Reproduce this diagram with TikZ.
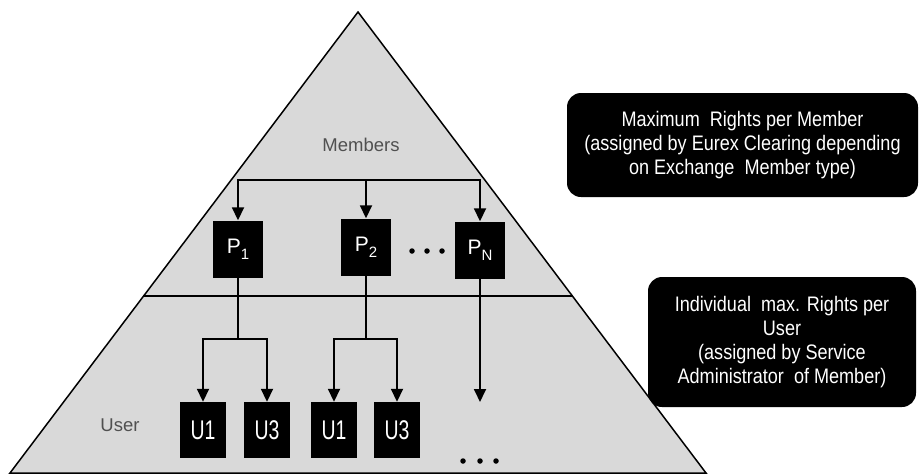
\documentclass[tikz,border=0pt]{standalone}
\usepackage{fontspec}
\setmainfont{Liberation Sans}
\newfontfamily\boxfont{Liberation Sans}[FakeStretch=0.86]
\newfontfamily\ufont{Liberation Sans}[FakeStretch=0.72]
\usetikzlibrary{arrows.meta,calc}
\definecolor{trigray}{HTML}{D9D9D9}
\definecolor{labelgray}{HTML}{505050}
\newcommand{\psub}[1]{P\raisebox{-6pt}{\fontsize{15}{15}\selectfont #1}}
\tikzset{
  pbox/.style={fill=black, minimum width=50pt, minimum height=57pt, inner sep=0pt,
    text=white, font=\fontsize{21}{21}\selectfont},
  ubox/.style={fill=black, minimum width=46pt, minimum height=56pt, inner sep=0pt,
    text=white, font=\ufont\fontsize{27}{27}\selectfont},
  infobox/.style={fill=black, rounded corners=14pt, text=white, align=center,
    inner sep=0pt, font=\boxfont\fontsize{21}{24}\selectfont},
  lvl/.style={text=labelgray, font=\fontsize{18.5}{18.5}\selectfont},
  conn/.style={line width=1.8pt, -{Triangle[length=13pt,width=12pt]}},
  wire/.style={line width=1.8pt},
  dotmark/.style={circle, fill=black, inner sep=0pt, minimum size=5.5pt},
}
\begin{document}
\begin{tikzpicture}[x=1pt,y=-1pt]
\useasboundingbox (0,0) rectangle (919,474);
% pyramid
\coordinate (apex) at (358,12);
\coordinate (bl) at (10,473);
\coordinate (br) at (706,473);
\draw[fill=trigray, line width=1.5pt] (apex) -- (bl) -- (br) -- cycle;
\coordinate (dl) at ($(apex)!0.616!(bl)$);
\coordinate (dr) at ($(apex)!0.616!(br)$);
\draw[wire] (dl) -- (dr);
% level labels
\node[lvl] (members) at (361,145) {Members};
\node[lvl] (user) at (120,425) {User};
% P boxes
\node[pbox] (p1) at (238,249) {\psub{1}};
\node[pbox] (p2) at (366,247) {\psub{2}};
\node[pbox] (pN) at (480,250) {\psub{N}};
\node[dotmark] (d1) at (412,251) {};
\node[dotmark] (d2) at (427,251) {};
\node[dotmark] (d3) at (442,251) {};
% bus from members
\coordinate (bus) at (366,180);
\draw[conn] (p2 |- bus) -| (p1);
\draw[conn] (p2 |- bus) -| (pN);
\draw[conn] (p2 |- bus) -- (p2);
% U boxes
\node[ubox] (u1a) at (203,430) {U1};
\node[ubox] (u3a) at (267,430) {U3};
\node[ubox] (u1b) at (334,430) {U1};
\node[ubox] (u3b) at (397,430) {U3};
\coordinate (b1) at (238,339);
\coordinate (b2) at (366,339);
\draw[wire] (p1) -- (p1 |- b1);
\draw[conn] (p1 |- b1) -| (u1a);
\draw[conn] (p1 |- b1) -| (u3a);
\draw[wire] (p2) -- (p2 |- b2);
\draw[conn] (p2 |- b2) -| (u1b);
\draw[conn] (p2 |- b2) -| (u3b);
\coordinate (pNend) at (480,402);
\draw[conn] (pN) -- (pNend);
\node[dotmark] (e1) at (463,461) {};
\node[dotmark] (e2) at (480,461) {};
\node[dotmark] (e3) at (496,461) {};
% info boxes
\node[infobox, minimum width=351pt, minimum height=104pt] (info1) at (742.5,145)
  {Maximum\ \ Rights per Member\\(assigned by Eurex Clearing depending\\on Exchange\ \ Member type)};
\node[infobox, minimum width=268pt, minimum height=130pt] (info2) at (782,342)
  {Individual\ \ max. Rights per\\User\\(assigned by Service\\Administrator\ \ of Member)};
\end{tikzpicture}
\end{document}
